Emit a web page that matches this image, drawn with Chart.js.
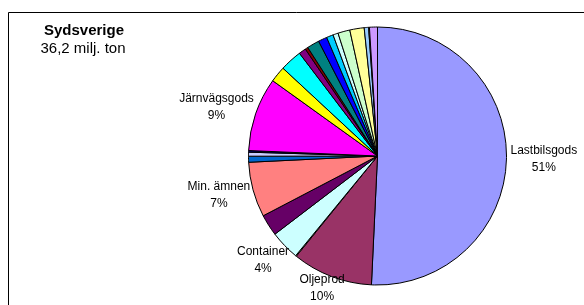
<!DOCTYPE html>
<html>
<head>
<meta charset="utf-8">
<script src="https://cdn.jsdelivr.net/npm/chart.js"></script>
<style>
  body { margin: 0; background: #fff; }
  canvas { display: block; }
</style>
</head>
<body>
<canvas id="pieChart" width="584" height="305"></canvas>
<script>
// Godsslag i Sydsverige, andel i procent (36,2 milj. ton totalt)
const categories = [
  'Lastbilsgods', 'Oljeprod', '', 'Container', '', 'Min. ämnen', '', '', '',
  'Järnvägsgods', '', '', '', '', '', '', '', '', '', '', '', '', ''
];
const shares = [
  50.8, 10.1, 0.1, 3.7, 2.7, 6.9, 0.75, 0.5, 0.2,
  9.25, 2.0, 2.75, 0.9, 0.35, 1.55, 1.1, 0.85, 0.65, 1.5, 1.8, 0.55, 0.1, 1.0
];
const titleText = 'Sydsverige';
const subtitleText = '36,2 milj. ton';

// Excel-standardpalett för cirkeldiagram
const sliceColors = [
  '#9999FF', '#993366', '#FFFFCC', '#CCFFFF', '#660066', '#FF8080', '#0066CC', '#CCCCFF', '#000080',
  '#FF00FF', '#FFFF00', '#00FFFF', '#800080', '#800000', '#008080', '#0000FF', '#00CCFF', '#CCFFFF',
  '#CCFFCC', '#FFFF99', '#99CCFF', '#FF99CC', '#CC99FF'
];

const FONT = '"Liberation Sans", Arial, sans-serif';

// Ram och rubrik
const framePlugin = {
  id: 'frame',
  beforeDraw(chart) {
    const ctx = chart.ctx;
    ctx.save();
    ctx.fillStyle = '#fff';
    ctx.fillRect(0, 0, chart.width, chart.height);
    ctx.strokeStyle = '#000';
    ctx.lineWidth = 1;
    ctx.beginPath();
    ctx.moveTo(8.5, chart.height);
    ctx.lineTo(8.5, 12.5);
    ctx.lineTo(chart.width, 12.5);
    ctx.stroke();

    ctx.fillStyle = '#000';
    ctx.textAlign = 'center';
    ctx.textBaseline = 'middle';
    ctx.font = 'bold 15px ' + FONT;
    ctx.fillText(titleText, 84, 31);
    ctx.font = '15px ' + FONT;
    ctx.fillText(subtitleText, 83, 49);
    ctx.restore();
  }
};

// Etiketter utanför tårtbitarna
const labelPlugin = {
  id: 'sliceLabels',
  afterDatasetsDraw(chart) {
    const ctx = chart.ctx;
    const meta = chart.getDatasetMeta(0);
    const total = shares.reduce((a, b) => a + b, 0);
    const lineH = 17;
    ctx.save();
    ctx.font = '12px ' + FONT;
    ctx.fillStyle = '#000';
    ctx.textAlign = 'center';
    ctx.textBaseline = 'middle';
    meta.data.forEach((arc, i) => {
      if (!categories[i]) return;
      const p = arc.getProps(['x', 'y', 'startAngle', 'endAngle', 'outerRadius'], true);
      const mid = (p.startAngle + p.endAngle) / 2;
      const dx = Math.cos(mid), dy = Math.sin(mid);
      const pct = Math.round(shares[i] / total * 100) + '%';
      const hw = Math.max(ctx.measureText(categories[i]).width, ctx.measureText(pct).width) / 2;
      const hh = lineH;
      const r = p.outerRadius + 4;
      let cx = p.x + dx * r + dx * hw;
      let cy = p.y + dy * r + dy * hh;
      cy = Math.min(cy, chart.height - hh);
      ctx.fillText(categories[i], cx, cy - lineH / 2);
      ctx.fillText(pct, cx, cy + lineH / 2);
    });
    ctx.restore();
  }
};

new Chart(document.getElementById('pieChart').getContext('2d'), {
  type: 'pie',
  data: {
    labels: categories,
    datasets: [{
      data: shares,
      backgroundColor: sliceColors,
      borderColor: '#000',
      borderWidth: 1
    }]
  },
  options: {
    responsive: false,
    animation: false,
    devicePixelRatio: 1,
    radius: 129,
    layout: { padding: { left: 248, right: 77, top: 26, bottom: 19 } },
    plugins: {
      legend: { display: false },
      tooltip: { enabled: false }
    }
  },
  plugins: [framePlugin, labelPlugin]
});
</script>
</body>
</html>
